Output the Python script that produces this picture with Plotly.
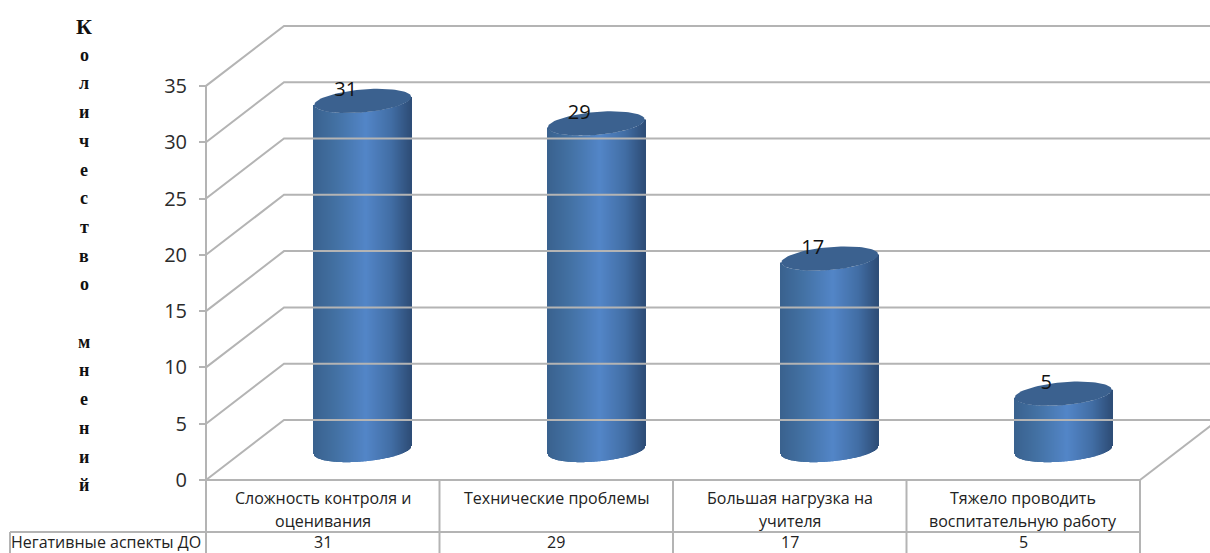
import numpy as np
import plotly.graph_objects as go

# ---- data ----
categories = [["Сложность контроля и", "оценивания"], ["Технические проблемы"],
              ["Большая нагрузка на", "учителя"], ["Тяжело проводить", "воспитательную работу"]]
values = [31, 29, 17, 5]
series_name = "Негативные аспекты ДО"
y_ticks = [0, 5, 10, 15, 20, 25, 30, 35]
title_letters = list("Количество") + [""] + list("мнений")

# ---- layout constants (page pixels) ----
W, H = 1210, 553
PX0, UNIT = 480.0, 11.26
AX_L, AX_R = 206.0, 1140.0
DX, DY = 78.0, 60.0 / UNIT
ROW_Y = 532.0
SLOT = (AX_R - AX_L) / len(values)
R = 48.5
DEPTH_X, DEPTH_V = 40.0, 30.0 / UNIT
TILT, MINOR = 4.0 / UNIT, 11.5 / UNIT
GRID = "#b4b4b4"


def v_of_px(py):
    return (PX0 - py) / UNIT


def shade(t):
    stops = [(-1.0, (58, 98, 143)), (-0.55, (67, 113, 163)), (0.08, (83, 134, 200)),
             (0.6, (66, 110, 165)), (1.0, (46, 78, 120))]
    xs = [s[0] for s in stops]
    rgb = [np.interp(t, xs, [s[1][k] for s in stops]) for k in range(3)]
    return "rgb(%d,%d,%d)" % tuple(int(c) for c in rgb)


fig = go.Figure()

# grid lines: side wall, back wall
gx, gy = [], []
for v in y_ticks:
    gx += [AX_L, AX_L + DX, W + 5, None]
    gy += [v, v + DY, v + DY, None]
gx += [AX_R, AX_R + DX, None, AX_L, AX_R, None, AX_L, AX_L]
gy += [0, DY, None, 0, 0, None, 0, 35]
# table rules
for i in range(len(values) + 1):
    gx += [None, AX_L + i * SLOT, AX_L + i * SLOT]
    gy += [None, 0, v_of_px(H)]
gx += [None, 10, AX_R, None, 10, 10]
gy += [None, v_of_px(ROW_Y), v_of_px(ROW_Y), None, v_of_px(ROW_Y), v_of_px(H)]
fig.add_trace(go.Scatter(x=gx, y=gy, mode="lines", line=dict(color=GRID, width=2),
                         hoverinfo="skip", showlegend=False, connectgaps=False))

# cylinders: body as thin bars with a horizontal shading
bx, bb, bh, bc = [], [], [], []
for i, val in enumerate(values):
    cx = AX_L + (i + 0.5) * SLOT + DEPTH_X
    for dx in np.arange(-R, R + 0.01, 1.0):
        c = dx / R
        s = np.sqrt(max(0, 1 - c * c))
        low = DEPTH_V + TILT * c - MINOR * s
        bx.append(cx + dx)
        bb.append(low)
        bh.append(val)
        bc.append(shade(c))
fig.add_trace(go.Bar(x=bx, y=bh, base=bb, width=1.2, marker=dict(color=bc, line=dict(width=0)),
                     hoverinfo="skip", showlegend=False))

# cylinder tops
for i, val in enumerate(values):
    cx = AX_L + (i + 0.5) * SLOT + DEPTH_X
    t = np.linspace(0, 2 * np.pi, 90)
    fig.add_trace(go.Scatter(x=cx + R * np.cos(t),
                             y=DEPTH_V + val + TILT * np.cos(t) + MINOR * np.sin(t),
                             mode="lines", fill="toself", fillcolor="#3b618f",
                             line=dict(width=0, color="#3b618f"),
                             hoverinfo="skip", showlegend=False))

# data labels
fig.add_trace(go.Scatter(
    x=[AX_L + (i + 0.5) * SLOT + DEPTH_X - 17 for i in range(len(values))],
    y=[DEPTH_V + v + 9.5 / UNIT for v in values],
    text=[str(v) for v in values], mode="text",
    textfont=dict(family="Open Sans", size=20, color="#111111"),
    textposition="middle center", hoverinfo="skip", showlegend=False))

fig.update_layout(
    width=W, height=H, margin=dict(l=0, r=0, t=0, b=0),
    paper_bgcolor="white", plot_bgcolor="white", barmode="overlay", showlegend=False,
    xaxis=dict(range=[0, W], visible=False, fixedrange=True),
    yaxis=dict(range=[v_of_px(H), v_of_px(0)], anchor="free", position=AX_L / W,
               tickvals=y_ticks, ticks="outside", ticklen=7, tickcolor=GRID, tickwidth=2,
               ticklabelstandoff=8,
               showgrid=False, zeroline=False, showline=False, fixedrange=True,
               tickfont=dict(family="Open Sans", size=20, color="#2b2b2b")),
)

anns = []
TXT = dict(family="Open Sans", size=16, color="#222222")
for i, cat in enumerate(categories):
    cx = AX_L + (i + 0.5) * SLOT
    for j, line in enumerate(cat):
        anns.append(dict(x=cx, y=v_of_px(498 + 23 * j), text=line, showarrow=False, font=TXT,
                         xanchor="center", yanchor="middle"))
    anns.append(dict(x=cx, y=v_of_px(542), text=str(values[i]), showarrow=False, font=TXT,
                     xanchor="center", yanchor="middle"))
anns.append(dict(x=106, y=v_of_px(542), text=series_name, showarrow=False, font=TXT,
                 xanchor="center", yanchor="middle"))
for k, ch in enumerate(title_letters):
    if ch:
        anns.append(dict(x=84, y=v_of_px(26 + 28.7 * k), text="<b>%s</b>" % ch, showarrow=False,
                         font=dict(family="Liberation Serif", size=22 if k == 0 else 18, color="#111111"),
                         xanchor="center", yanchor="middle"))
fig.update_layout(annotations=anns)

fig.write_html("out.html", config=dict(displayModeBar=False),
               post_script="document.body.style.margin='0';document.body.style.overflow='hidden';")
